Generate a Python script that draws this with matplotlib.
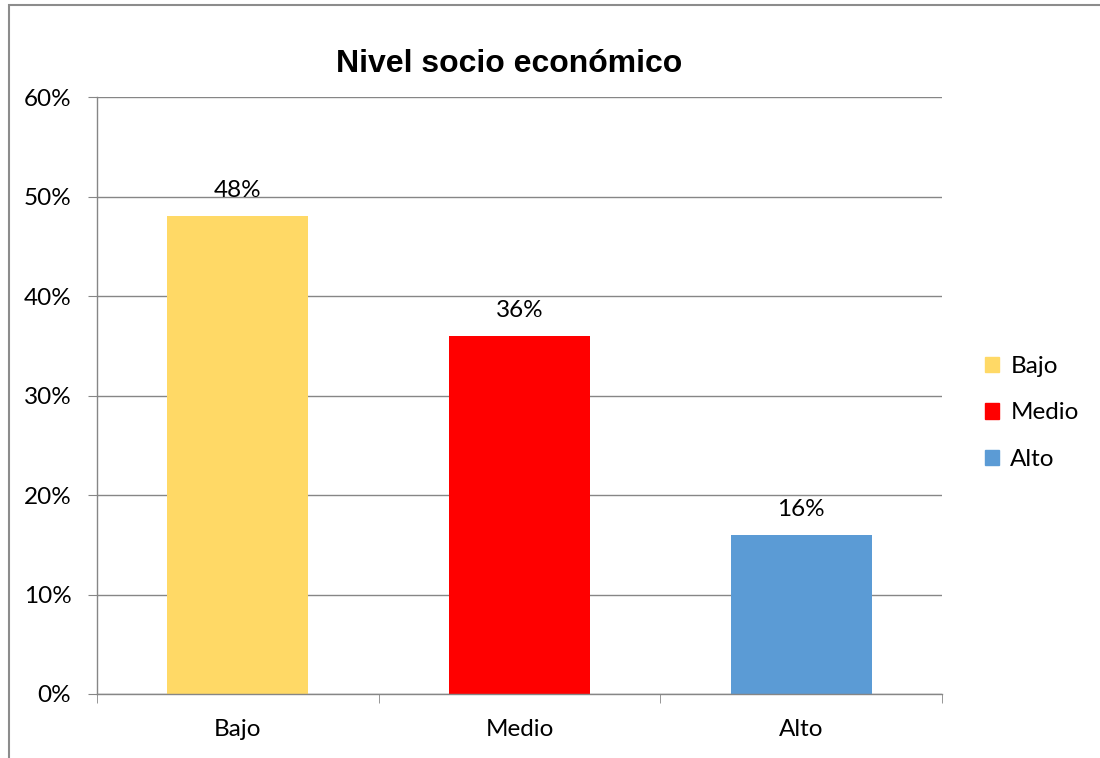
import matplotlib.pyplot as plt
import matplotlib.patches as mpatches
from matplotlib.ticker import FixedLocator, PercentFormatter

# Nivel socio economico: share of each level
categorias = ['Bajo', 'Medio', 'Alto']
porcentajes = [48, 36, 16]
colores = ['#FFD966', '#FF0000', '#5B9BD5']
yticks = [0, 10, 20, 30, 40, 50, 60]

GRIS = '#868686'
fuente = ['Lato', 'DejaVu Sans']
TAM = 17.5

fig = plt.figure(figsize=(11, 7.58), dpi=100)

# outer chart border (cut at right and bottom)
fig.add_artist(mpatches.Rectangle((9 / 1100, -0.1), 1.2, 1 - 5 / 758 + 0.1,
                                  transform=fig.transFigure, fill=False,
                                  edgecolor='#8c8c8c', linewidth=1.5))

ax = fig.add_axes([97 / 1100, 64 / 758, 845 / 1100, 597 / 758])

x = range(len(categorias))
ax.bar(x, porcentajes, width=0.5, color=colores, zorder=2)

for xi, v in zip(x, porcentajes):
    ax.annotate(f'{v}%', (xi, v), xytext=(0, 11), textcoords='offset points',
                ha='center', va='bottom', fontsize=TAM, family=fuente, zorder=3)

ax.set_xlim(-0.5, 2.5)
ax.set_ylim(0, 60)
ax.set_yticks(yticks)
ax.yaxis.set_major_formatter(PercentFormatter(decimals=0))
ax.set_xticks(list(x))
ax.set_xticklabels(categorias)
ax.xaxis.set_minor_locator(FixedLocator([-0.5, 0.5, 1.5, 2.5]))

ax.grid(axis='y', color=GRIS, linewidth=1, zorder=0)
ax.set_axisbelow(True)
for s in ['top', 'right']:
    ax.spines[s].set_visible(False)
for s in ['left', 'bottom']:
    ax.spines[s].set_color(GRIS)
    ax.spines[s].set_linewidth(1)

ax.tick_params(axis='y', length=6.5, color=GRIS, pad=12, labelsize=TAM)
ax.tick_params(axis='x', which='major', length=0, pad=18, labelsize=TAM)
ax.tick_params(axis='x', which='minor', length=6.5, color=GRIS)
for lab in ax.get_xticklabels() + ax.get_yticklabels():
    lab.set_family(fuente)

fig.text(509 / 1100, 1 - 64 / 758, 'Nivel socio económico', ha='center', va='center',
         fontsize=23, fontweight='bold', family='Liberation Sans')

handles = [mpatches.Patch(color=c, label=l) for c, l in zip(colores, categorias)]
fig.legend(handles=handles, loc='center left', bbox_to_anchor=(963 / 1100, 1 - 413 / 758),
           frameon=False, prop={'family': fuente, 'size': TAM},
           handlelength=0.6, handleheight=0.6, handletextpad=0.45, labelspacing=1.05)

fig.savefig('out.png', dpi=100)
